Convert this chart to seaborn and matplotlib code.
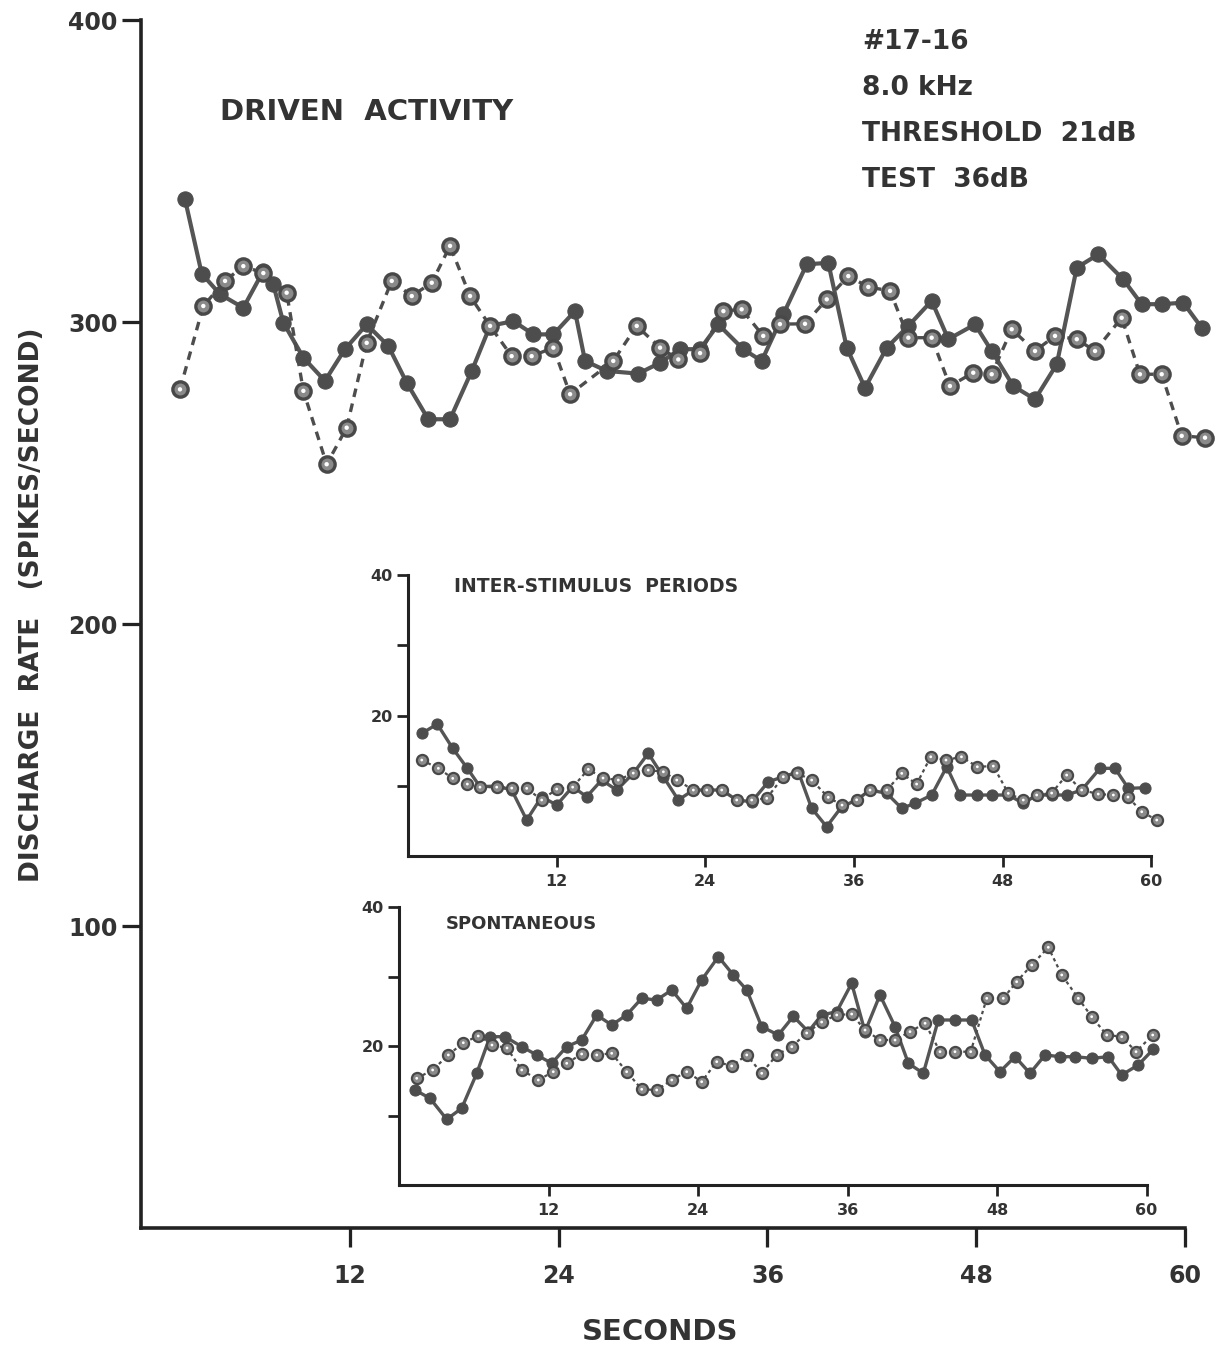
import matplotlib
matplotlib.use("Agg")
import matplotlib.pyplot as plt
import seaborn as sns

# ---------------- data ----------------
# Driven activity (spikes/s), two runs: solid (filled dots) and dashed (open dots)
driven_solid_t = [2.53, 3.49, 4.54, 5.88, 7.03, 7.60, 8.18, 9.33, 10.57, 11.72, 12.97, 14.21,
                  15.27, 16.51, 17.76, 19.01, 20.06, 21.40, 22.55, 23.70, 24.94, 25.52, 26.76,
                  28.58, 29.83, 30.98, 32.13, 33.18, 34.61, 35.67, 36.91, 38.26, 39.50, 40.56,
                  41.61, 42.86, 44.10, 45.44, 46.40, 47.93, 48.89, 50.13, 51.38, 52.63, 53.78,
                  55.02, 56.45, 57.51, 58.66, 59.90, 60.96]
driven_solid = [340.6, 316.0, 309.2, 304.7, 316.9, 312.5, 299.8, 288.2, 280.5, 291.0, 299.2, 292.1,
                279.9, 267.8, 267.8, 283.8, 298.7, 300.3, 295.9, 295.9, 303.6, 287.1, 283.8,
                282.9, 286.5, 291.0, 291.0, 299.2, 291.0, 287.1, 302.5, 319.1, 319.6, 291.5,
                278.2, 291.5, 298.7, 307.0, 294.3, 299.2, 290.4, 278.8, 274.4, 286.0, 318.0,
                322.4, 314.1, 305.9, 305.9, 306.4, 298.1]

driven_open_t = [2.24, 3.58, 4.83, 5.88, 7.03, 8.37, 9.33, 10.67, 11.82, 12.97, 14.41, 15.56,
                 16.71, 17.76, 18.91, 20.06, 21.30, 22.45, 23.70, 24.66, 27.14, 28.49, 29.83,
                 30.88, 32.13, 33.47, 34.52, 35.76, 36.72, 38.16, 39.41, 40.65, 41.80, 43.05,
                 44.10, 45.44, 46.49, 47.83, 48.89, 50.04, 51.38, 52.53, 53.78, 54.83, 56.36,
                 57.41, 58.66, 59.81, 61.15]
driven_open = [277.7, 305.3, 313.6, 318.5, 316.2, 309.7, 277.2, 252.9, 265.0, 293.1, 313.6, 308.6,
               313.0, 325.2, 308.6, 298.7, 288.7, 288.7, 291.5, 276.1, 287.1, 298.7, 291.5,
               287.6, 289.7, 303.6, 304.2, 295.4, 299.3, 299.4, 307.5, 315.2, 311.6, 310.3,
               294.8, 294.8, 278.8, 283.2, 282.7, 297.6, 290.4, 295.4, 294.3, 290.4, 301.4,
               282.7, 282.7, 262.3, 261.7]

# Inter-stimulus periods (spikes/s)
isp_solid_t = [1.11, 2.36, 3.61, 4.79, 5.81, 7.16, 8.37, 9.58, 10.79, 12.00, 13.29, 14.42,
               15.63, 16.84, 18.18, 19.39, 20.61, 21.82, 23.03, 24.11, 25.32, 26.53, 27.74,
               29.08, 30.29, 31.50, 32.58, 33.79, 35.00, 36.21, 37.29, 38.64, 39.85, 40.92,
               42.27, 43.48, 44.55, 45.90, 47.11, 48.45, 49.66, 50.74, 51.95, 53.16, 54.37,
               55.85, 57.06, 58.14, 59.48]
isp_solid = [17.45, 18.78, 15.32, 12.48, 9.86, 9.96, 9.39, 5.12, 8.44, 7.25, 9.86, 8.44,
             10.81, 9.39, 11.76, 14.61, 11.28, 7.97, 9.39, 9.39, 9.39, 7.97, 7.72,
             10.57, 11.28, 11.99, 6.79, 4.17, 7.01, 7.97, 9.39, 8.92, 6.79, 7.50,
             8.68, 12.70, 8.68, 8.68, 8.68, 8.68, 7.50, 8.68, 8.68, 8.68, 9.39,
             12.48, 12.48, 9.63, 9.72]

isp_open_t = [1.11, 2.45, 3.61, 4.79, 5.81, 7.16, 8.37, 9.58, 10.79, 12.00, 13.29, 14.55,
              15.74, 16.97, 18.18, 19.39, 20.61, 21.69, 23.03, 24.11, 25.32, 26.53, 27.74,
              28.95, 30.29, 31.40, 32.58, 33.92, 35.03, 36.21, 37.29, 38.64, 39.85, 41.05,
              42.19, 43.42, 44.67, 45.95, 47.24, 48.45, 49.66, 50.74, 51.95, 53.16, 54.37,
              55.71, 56.93, 58.11, 59.22, 60.43]
isp_open = [13.66, 12.48, 11.05, 10.24, 9.80, 9.80, 9.67, 9.63, 7.97, 9.53, 9.80, 12.33,
            11.10, 10.81, 11.80, 12.23, 11.99, 10.81, 9.39, 9.39, 9.39, 7.97, 7.97,
            8.21, 11.28, 11.80, 10.81, 8.35, 7.25, 8.00, 9.39, 9.39, 11.76, 10.24,
            14.12, 13.66, 14.12, 12.70, 12.80, 8.92, 7.97, 8.68, 8.96, 11.52, 9.39,
            8.82, 8.68, 8.39, 6.30, 5.12]

# Spontaneous activity (spikes/s)
spont_solid_t = [1.28, 2.49, 3.83, 5.03, 6.24, 7.30, 8.51, 9.85, 11.05, 12.26, 13.46, 14.66,
                 15.87, 17.07, 18.27, 19.48, 20.68, 21.89, 23.09, 24.29, 25.63, 26.83, 27.91,
                 29.11, 30.44, 31.65, 32.85, 33.92, 35.13, 36.33, 37.40, 38.60, 39.81, 40.88,
                 42.08, 43.28, 44.62, 45.96, 47.03, 48.23, 49.44, 50.64, 51.85, 53.05, 54.25,
                 55.59, 56.93, 58.00, 59.33, 60.54]
spont_solid = [13.67, 12.47, 9.45, 11.04, 16.07, 21.34, 21.34, 19.90, 18.71, 17.51, 19.90, 20.86,
               24.46, 23.02, 24.46, 26.86, 26.62, 28.06, 25.42, 29.50, 32.85, 30.22, 28.06,
               22.78, 21.58, 24.27, 22.06, 24.46, 24.94, 29.02, 22.06, 27.34, 22.78, 17.51,
               16.07, 23.74, 23.74, 23.74, 18.71, 16.30, 18.46, 16.07, 18.71, 18.46, 18.46,
               18.23, 18.46, 15.83, 17.27, 19.53]

spont_open_t = [1.42, 2.70, 3.96, 5.16, 6.36, 7.46, 8.67, 9.85, 11.18, 12.38, 13.46, 14.66,
                15.87, 17.07, 18.27, 19.48, 20.68, 21.89, 23.09, 24.29, 25.50, 26.70, 27.91,
                29.11, 30.31, 31.52, 32.72, 33.92, 35.13, 36.33, 37.40, 38.60, 39.81, 41.01,
                42.22, 43.42, 44.62, 45.88, 47.17, 48.50, 49.57, 50.78, 52.11, 53.19, 54.52,
                55.59, 56.80, 58.00, 59.15, 60.49]
spont_open = [15.35, 16.55, 18.71, 20.47, 21.44, 20.14, 19.71, 16.55, 15.11, 16.30, 17.51, 18.85,
              18.71, 18.95, 16.30, 13.77, 13.67, 15.11, 16.30, 14.86, 17.74, 17.12, 18.71,
              16.07, 18.71, 19.90, 21.87, 23.45, 24.46, 24.60, 22.30, 20.86, 20.86, 22.06,
              23.27, 19.18, 19.18, 19.18, 26.86, 26.86, 29.25, 31.65, 34.20, 30.22, 26.86,
              24.22, 21.58, 21.34, 19.18, 21.58]

main_xticks = [12, 24, 36, 48, 60]
main_yticks = [100, 200, 300, 400]
inset_yticks = [10, 20, 30, 40]
inset_ylabels = ["", "20", "", "40"]

info_lines = ["#17-16", "8.0 kHz", "THRESHOLD  21dB", "TEST  36dB"]

# ---------------- style ----------------
sns.set_theme(style="white")
plt.rcParams["font.family"] = ["DejaVu Sans"]
plt.rcParams["font.weight"] = "bold"

INK = "#333333"
LINE = "#555555"
DOT = "#4d4d4d"

W, H = 1217, 1352
fig = plt.figure(figsize=(W / 100, H / 100), dpi=100)
fig.patch.set_facecolor("white")


def axes_px(left, top, right, bottom):
    return fig.add_axes([left / W, 1 - bottom / H, (right - left) / W, (bottom - top) / H])


def style_axes(ax, xlim, ylim, xticks, yticks, ylabels, lw, tick_len, label_size, xtop, pad):
    ax.set_xlim(*xlim)
    ax.set_ylim(*ylim)
    ax.patch.set_alpha(0)
    for side in ("top", "right"):
        ax.spines[side].set_visible(False)
    for side in ("left", "bottom"):
        ax.spines[side].set_color("#222222")
        ax.spines[side].set_linewidth(lw)
    ax.spines["left"].set_bounds(0, ylim[1])
    ax.spines["bottom"].set_bounds(0, xtop)
    ax.set_xticks(xticks)
    ax.set_xticklabels([str(v) for v in xticks])
    ax.set_yticks(yticks)
    ax.set_yticklabels(ylabels)
    ax.tick_params(axis="both", direction="out", length=tick_len, width=lw * 0.9,
                   colors="#222222", labelcolor=INK, labelsize=label_size,
                   left=True, bottom=True)
    ax.tick_params(axis="x", pad=pad)
    ax.tick_params(axis="y", pad=3)
    ax.set_xlabel("")
    ax.set_ylabel("")
    ax.grid(False)


def draw_pair(ax, ts, vs, to, vo, lw_s, lw_o, ms, dash, white_s):
    sns.lineplot(x=ts, y=vs, ax=ax, sort=False, estimator=None, color=LINE, linewidth=lw_s,
                 marker="o", markersize=ms, markerfacecolor=DOT, markeredgecolor=DOT,
                 clip_on=False, zorder=3)
    sns.lineplot(x=to, y=vo, ax=ax, sort=False, estimator=None, color=DOT, linewidth=lw_o,
                 linestyle=dash, marker="o", markersize=ms, markerfacecolor="#8a8a8a",
                 markeredgecolor="#484848", markeredgewidth=lw_o, clip_on=False, zorder=4)
    sns.scatterplot(x=to, y=vo, ax=ax, s=white_s, color="white", edgecolor="none",
                    clip_on=False, zorder=5)


# ---------------- main panel: driven activity ----------------
ax = axes_px(141, 20, 141 + 61.84 * 17.4, 1228)
draw_pair(ax, driven_solid_t, driven_solid, driven_open_t, driven_open,
          3.0, 2.4, 11, (0, (2.6, 2.0)), 10)
style_axes(ax, (0, 61.84), (0, 400), main_xticks, main_yticks,
           [str(v) for v in main_yticks], 2.6, 14, 17, 60, 12)

# ---------------- inset: inter-stimulus periods ----------------
ax1 = axes_px(408, 575, 408 + 62 * 12.39, 856)
draw_pair(ax1, isp_solid_t, isp_solid, isp_open_t, isp_open,
          2.4, 1.6, 8, (0, (1.5, 1.5)), 4)
style_axes(ax1, (0, 62), (0, 40), main_xticks, inset_yticks, inset_ylabels, 2.2, 8, 11.5, 60, 5)
ax1.text(0.06, 0.96, "INTER-STIMULUS  PERIODS", transform=ax1.transAxes, fontsize=13.5,
         fontweight="bold", color=INK, ha="left", va="center")

# ---------------- inset: spontaneous ----------------
ax2 = axes_px(399, 907, 399 + 62 * 12.46, 1185)
draw_pair(ax2, spont_solid_t, spont_solid, spont_open_t, spont_open,
          2.4, 1.6, 8, (0, (1.5, 1.5)), 4)
style_axes(ax2, (0, 62), (0, 40), main_xticks, inset_yticks, inset_ylabels, 2.2, 8, 11.5, 60, 5)
ax2.text(0.06, 0.94, "SPONTANEOUS", transform=ax2.transAxes, fontsize=13,
         fontweight="bold", color=INK, ha="left", va="center")

# ---------------- text ----------------
fig.text(220 / W, 1 - 112 / H, "DRIVEN  ACTIVITY", fontsize=21, color=INK,
         ha="left", va="center")
for i, line in enumerate(info_lines):
    fig.text(862 / W, 1 - (42 + i * 46) / H, line, fontsize=19, color=INK,
             ha="left", va="center")
fig.text(32 / W, 1 - 605 / H, "DISCHARGE  RATE   (SPIKES/SECOND)", fontsize=19,
         color=INK, rotation=90, ha="center", va="center")
fig.text(660 / W, 1 - 1332 / H, "SECONDS", fontsize=21, color=INK,
         ha="center", va="center")

fig.savefig("out.png", dpi=100, facecolor="white")
